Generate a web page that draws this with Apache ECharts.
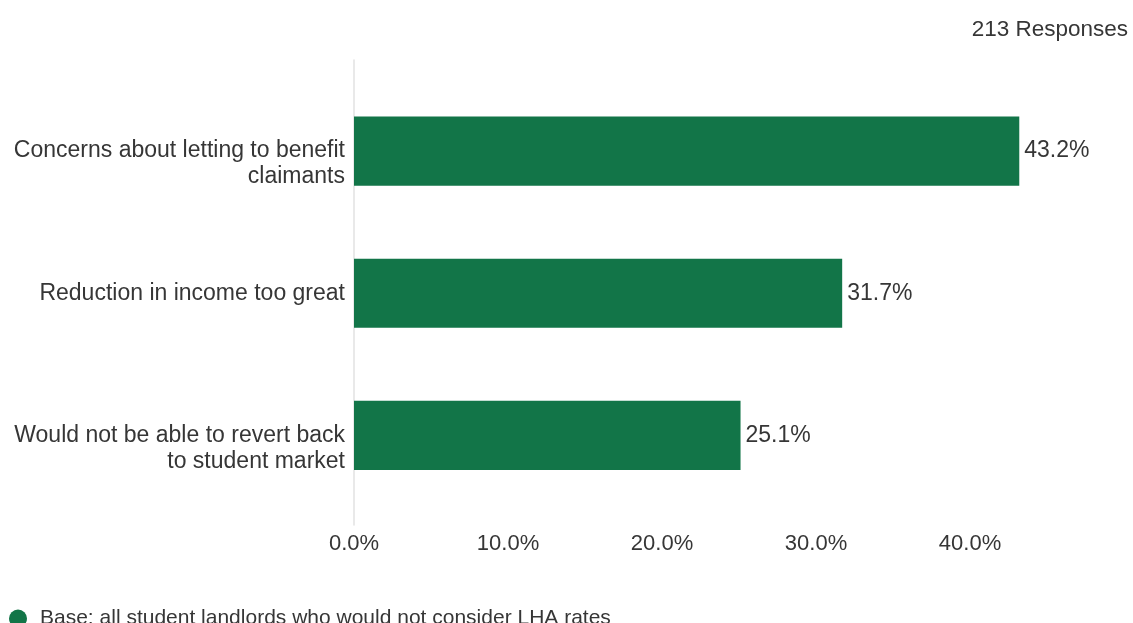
<!DOCTYPE html>
<html>
<head>
<meta charset="utf-8">
<script src="https://cdn.jsdelivr.net/npm/echarts@6/dist/echarts.min.js"></script>
<style>
  html, body { margin: 0; padding: 0; background: #fff; }
  #chart { width: 1133px; height: 623px; }
</style>
</head>
<body>
<div id="chart"></div>
<script>
// Reasons given for not considering LHA rates (share of responses, %)
const categories = [
  'Concerns about letting to benefit\nclaimants',
  'Reduction in income too great',
  'Would not be able to revert back\nto student market'
];
const values = [43.2, 31.7, 25.1];
const seriesName = 'Base: all student landlords who would not consider LHA rates';
const responseNote = '213 Responses';

const FONT = '"Liberation Sans", Arial, sans-serif';
const TEXT = '#363636';
const GREEN = '#127548';

const chart = echarts.init(document.getElementById('chart'));

chart.setOption({
  animation: false,
  title: {
    text: responseNote,
    right: 0,
    top: 13,
    textStyle: { fontFamily: FONT, fontSize: 22.5, fontWeight: 'normal', color: TEXT }
  },
  legend: {
    left: 4,
    top: 603,
    icon: 'circle',
    itemWidth: 18,
    itemHeight: 18,
    textStyle: { fontFamily: FONT, fontSize: 21, color: TEXT, padding: [0, 0, 0, 8] },
    data: [seriesName]
  },
  grid: [
    { left: 354, right: 9, top: 80, bottom: 116.5 },
    { left: 354, right: 9, top: 60, bottom: 98 }
  ],
  xAxis: [
    {
      gridIndex: 0,
      type: 'value',
      min: 0,
      max: 50,
      interval: 10,
      axisLine: { show: false },
      axisTick: { show: false },
      splitLine: { show: false },
      axisLabel: {
        showMaxLabel: false,
        margin: 26,
        fontFamily: FONT,
        fontSize: 22,
        color: TEXT,
        formatter: v => v.toFixed(1) + '%'
      }
    },
    {
      gridIndex: 1,
      type: 'value',
      min: 0,
      max: 50,
      show: false
    }
  ],
  yAxis: [
    {
      gridIndex: 0,
      type: 'category',
      inverse: true,
      data: categories,
      axisLine: { show: false },
      axisTick: { show: false },
      axisLabel: {
        margin: 9,
        fontFamily: FONT,
        fontSize: 23,
        lineHeight: 26,
        color: TEXT,
        padding: [5, 0, 0, 0],
        // two-line labels keep their first line level with the bar
        formatter: v => v.includes('\n') ? ' \n' + v : v
      }
    },
    {
      // baseline at zero, extending a little past the bars
      gridIndex: 1,
      type: 'category',
      data: [''],
      axisLine: { show: true, lineStyle: { color: '#e2e2e2', width: 1.5 } },
      axisTick: { show: false },
      axisLabel: { show: false }
    }
  ],
  series: [
    {
      name: seriesName,
      type: 'bar',
      xAxisIndex: 0,
      yAxisIndex: 0,
      data: values,
      barWidth: '48.6%',
      itemStyle: { color: GREEN },
      label: {
        show: true,
        position: 'right',
        distance: 5,
        padding: [5, 0, 0, 0],
        fontFamily: FONT,
        fontSize: 23,
        color: TEXT,
        formatter: p => p.value.toFixed(1) + '%'
      }
    }
  ]
});
</script>
</body>
</html>
